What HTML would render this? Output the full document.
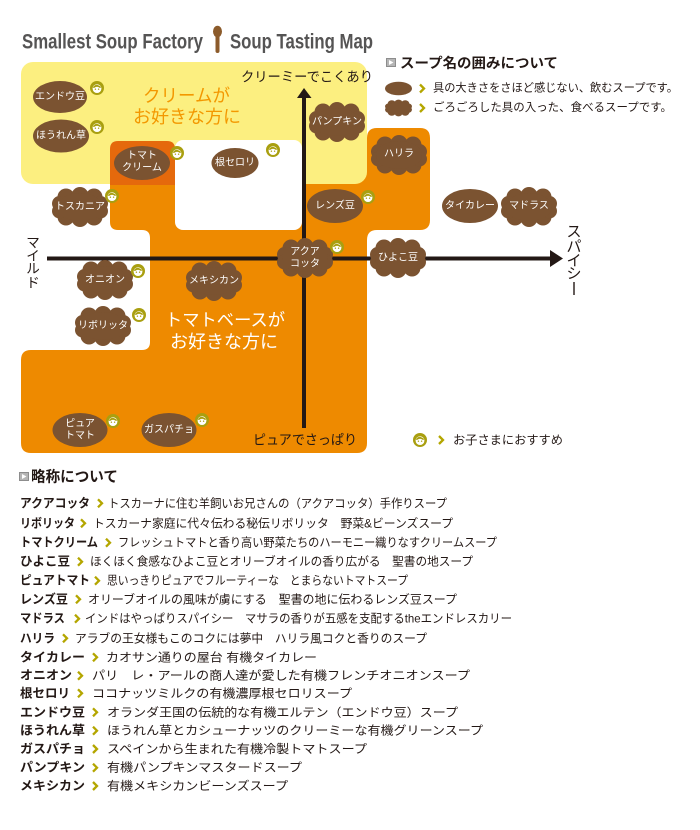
<!DOCTYPE html>
<html><head><meta charset="utf-8"><style>
html,body{margin:0;padding:0;background:#fff}
svg{display:block}
text{font-family:"Liberation Sans","Noto Sans CJK JP",sans-serif}
.n{fill:#fff;font-size:10px;text-anchor:middle;dominant-baseline:central}
.k{fill:#231815;dominant-baseline:central}
.b{font-weight:bold}
</style></head><body>
<svg width="700" height="830" viewBox="0 0 700 830" xmlns="http://www.w3.org/2000/svg">
<defs>
<g id="cl" fill="#7b5331">
<circle cx="-14" cy="-10" r="8.5"/><circle cx="0" cy="-11.5" r="8.5"/><circle cx="14" cy="-10" r="8.5"/>
<circle cx="-14" cy="10" r="8.5"/><circle cx="0" cy="11.5" r="8.5"/><circle cx="14" cy="10" r="8.5"/>
<circle cx="-20.5" cy="-3.5" r="7.5"/><circle cx="-20.5" cy="4" r="7.5"/><circle cx="20.5" cy="-3.5" r="7.5"/><circle cx="20.5" cy="4" r="7.5"/>
<ellipse cx="0" cy="0" rx="23" ry="14"/>
</g>
<g id="kid"><circle r="7" fill="#a99f10"/><circle cy="0.6" r="4.4" fill="#fff"/><path d="M-4.2,-0.5 Q-1,-5.5 4.2,-0.8 L3,0 Q0,-2.5 -3,0 Z" fill="#a99f10"/><circle cx="-1.6" cy="1.2" r="0.7" fill="#a99f10"/><circle cx="1.6" cy="1.2" r="0.7" fill="#a99f10"/></g>
<path id="chev" d="M-2,-4 L2,0 L-2,4" fill="none" stroke="#b4a600" stroke-width="2.3"/>
<g id="sq"><rect x="0" y="0" width="10" height="9" fill="#8d8d8d"/><rect x="1" y="1" width="8" height="7" fill="#b5b5b5"/><path d="M3,2 L7.5,4.5 L3,7 Z" fill="#fff"/></g>
</defs>

<!-- Title -->
<text x="22" y="48.5" font-size="21" font-weight="bold" fill="#555454" textLength="181" lengthAdjust="spacingAndGlyphs">Smallest Soup Factory</text>
<ellipse cx="217.5" cy="31.5" rx="4.5" ry="5.8" fill="#8c5b2b"/>
<path d="M217.5,34 L217.5,51" stroke="#8c5b2b" stroke-width="4" stroke-linecap="round"/>
<text x="230" y="48.5" font-size="21" font-weight="bold" fill="#555454" textLength="143" lengthAdjust="spacingAndGlyphs">Soup Tasting Map</text>

<!-- Orange main shape -->
<path d="M110,141 H367 V138 Q367,128 377,128 H420 Q430,128 430,138 V220 Q430,230 420,230 H377 Q367,230 367,240 V443 Q367,453 357,453 H31 Q21,453 21,443 V360 Q21,350 31,350 H142 Q150,350 150,342 V238 Q150,230 142,230 H118 Q110,230 110,222 Z" fill="#ee8a00"/>
<!-- Yellow -->
<rect x="21" y="62" width="346" height="122" rx="12" fill="#fcef80"/>
<!-- Dark orange -->
<path d="M110,185 V149 Q110,141 118,141 H167 Q175,141 175,149 V185 Z" fill="#e5690c"/>
<!-- White box -->
<rect x="175" y="140" width="127" height="90" rx="8" fill="#fff"/>

<!-- Region labels -->
<text x="143" y="96" font-size="18" fill="#f39800" textLength="87" lengthAdjust="spacingAndGlyphs" dominant-baseline="central">クリームが</text>
<text x="133" y="117" font-size="18" fill="#f39800" textLength="108" lengthAdjust="spacingAndGlyphs" dominant-baseline="central">お好きな方に</text>
<text x="165" y="320" font-size="17.5" fill="#fff" textLength="120" lengthAdjust="spacingAndGlyphs" dominant-baseline="central">トマトベースが</text>
<text x="170" y="342" font-size="18" fill="#fff" textLength="108" lengthAdjust="spacingAndGlyphs" dominant-baseline="central">お好きな方に</text>

<!-- Axes -->
<line x1="47" y1="258.5" x2="553" y2="258.5" stroke="#231815" stroke-width="4"/>
<path d="M550,250 L563,258.5 L550,267 Z" fill="#231815"/>
<line x1="304" y1="96" x2="304" y2="428" stroke="#231815" stroke-width="4"/>
<path d="M297,98 L304,88 L311.5,98 Z" fill="#231815"/>

<text class="k" x="241" y="77" font-size="13.5" textLength="132" lengthAdjust="spacingAndGlyphs">クリーミーでこくあり</text>
<text class="k" x="253" y="440" font-size="13.5" textLength="104" lengthAdjust="spacingAndGlyphs">ピュアでさっぱり</text>
<g font-size="13.5" fill="#231815" text-anchor="middle" dominant-baseline="central">
<text x="33" y="243">マ</text><text x="33" y="256">イ</text><text x="33" y="269">ル</text><text x="33" y="283">ド</text>
</g>
<g font-size="15" fill="#231815" text-anchor="middle" dominant-baseline="central">
<text x="574" y="232">ス</text><text x="574" y="247">パ</text><text x="574" y="261">イ</text><text x="574" y="274">シ</text>
</g>
<line x1="574" y1="282" x2="574" y2="295" stroke="#231815" stroke-width="1.4"/>

<!-- Nodes: ellipses -->
<g fill="#7b5331">
<ellipse cx="60" cy="97" rx="27" ry="16"/>
<ellipse cx="61" cy="136" rx="28" ry="16.5"/>
<ellipse cx="142" cy="163" rx="28" ry="17"/>
<ellipse cx="235" cy="163" rx="23.5" ry="15"/>
<ellipse cx="335" cy="206" rx="28" ry="17"/>
<ellipse cx="470" cy="206" rx="28" ry="17"/>
<ellipse cx="80" cy="430" rx="27.5" ry="17"/>
<ellipse cx="169" cy="430" rx="27.5" ry="17"/>
</g>
<!-- Nodes: clouds -->
<use href="#cl" x="337" y="122"/>
<use href="#cl" x="399" y="155"/>
<use href="#cl" x="305" y="258"/>
<use href="#cl" x="398" y="258"/>
<use href="#cl" x="529" y="207"/>
<use href="#cl" x="80" y="207"/>
<use href="#cl" x="105" y="280"/>
<use href="#cl" x="103" y="326"/>
<use href="#cl" x="214" y="281"/>

<!-- Node labels -->
<text class="n" x="60" y="97">エンドウ豆</text>
<text class="n" x="61" y="136">ほうれん草</text>
<text class="n" x="142" y="156">トマト</text>
<text class="n" x="142" y="168">クリーム</text>
<text class="n" x="235" y="163">根セロリ</text>
<text class="n" x="337" y="122">パンプキン</text>
<text class="n" x="399" y="154">ハリラ</text>
<text class="n" x="335" y="206" font-size="11">レンズ豆</text>
<text class="n" x="470" y="206">タイカレー</text>
<text class="n" x="529" y="206">マドラス</text>
<text class="n" x="80" y="207">トスカニア</text>
<text class="n" x="305" y="252">アクア</text>
<text class="n" x="305" y="264">コッタ</text>
<text class="n" x="398" y="258" font-size="10.5">ひよこ豆</text>
<text class="n" x="105" y="280">オニオン</text>
<text class="n" x="103" y="326">リボリッタ</text>
<text class="n" x="214" y="281">メキシカン</text>
<text class="n" x="80" y="424">ピュア</text>
<text class="n" x="80" y="436">トマト</text>
<text class="n" x="169" y="430">ガスパチョ</text>

<!-- Kid icons -->
<use href="#kid" x="97" y="88"/>
<use href="#kid" x="97" y="127"/>
<use href="#kid" x="177" y="153"/>
<use href="#kid" x="273" y="150"/>
<use href="#kid" x="368" y="197"/>
<use href="#kid" x="337" y="247"/>
<use href="#kid" x="112" y="196"/>
<use href="#kid" x="138" y="271"/>
<use href="#kid" x="139" y="315"/>
<use href="#kid" x="113" y="421"/>
<use href="#kid" x="202" y="420"/>

<!-- Legend top right -->
<use href="#sq" x="386" y="58"/>
<text class="k b" x="400" y="63" font-size="14" textLength="158" lengthAdjust="spacingAndGlyphs">スープ名の囲みについて</text>
<ellipse cx="398.5" cy="88.5" rx="13.5" ry="6.8" fill="#7b5331"/>
<use href="#chev" x="422" y="88.5"/>
<text class="k" x="433" y="88.5" font-size="11.5" textLength="245" lengthAdjust="spacingAndGlyphs">具の大きさをさほど感じない、飲むスープです。</text>
<g transform="translate(398.5,108) scale(0.48,0.42)"><use href="#cl"/></g>
<use href="#chev" x="422" y="108"/>
<text class="k" x="433" y="108" font-size="11.5" textLength="239" lengthAdjust="spacingAndGlyphs">ごろごろした具の入った、食べるスープです。</text>

<use href="#kid" x="420" y="440"/>
<use href="#chev" x="441" y="440"/>
<text class="k" x="453" y="440" font-size="12" textLength="110" lengthAdjust="spacingAndGlyphs">お子さまにおすすめ</text>

<!-- Abbreviations -->
<use href="#sq" x="19" y="472"/>
<text class="k b" x="31" y="477" font-size="15" textLength="87" lengthAdjust="spacingAndGlyphs">略称について</text>

<g font-size="12.5">
<text class="k b" x="20" y="503.3" textLength="70" lengthAdjust="spacingAndGlyphs">アクアコッタ</text>
<use href="#chev" x="100" y="503.3"/>
<text class="k" x="108" y="503.3" font-size="12" textLength="339" lengthAdjust="spacingAndGlyphs">トスカーナに住む羊飼いお兄さんの（アクアコッタ）手作りスープ</text>

<text class="k b" x="20" y="523.3" textLength="55" lengthAdjust="spacingAndGlyphs">リボリッタ</text>
<use href="#chev" x="83" y="523.3"/>
<text class="k" x="93" y="523.3" font-size="12" textLength="360" lengthAdjust="spacingAndGlyphs">トスカーナ家庭に代々伝わる秘伝リボリッタ　野菜&amp;ビーンズスープ</text>

<text class="k b" x="20" y="542.7" textLength="78" lengthAdjust="spacingAndGlyphs">トマトクリーム</text>
<use href="#chev" x="108" y="542.7"/>
<text class="k" x="118" y="542.7" font-size="12" textLength="379" lengthAdjust="spacingAndGlyphs">フレッシュトマトと香り高い野菜たちのハーモニー織りなすクリームスープ</text>

<text class="k b" x="20" y="561.7" textLength="50" lengthAdjust="spacingAndGlyphs">ひよこ豆</text>
<use href="#chev" x="80" y="561.7"/>
<text class="k" x="90" y="561.7" font-size="12" textLength="383" lengthAdjust="spacingAndGlyphs">ほくほく食感なひよこ豆とオリーブオイルの香り広がる　聖書の地スープ</text>

<text class="k b" x="20" y="580.7" textLength="70" lengthAdjust="spacingAndGlyphs">ピュアトマト</text>
<use href="#chev" x="97" y="580.7"/>
<text class="k" x="107" y="580.7" font-size="12" textLength="301" lengthAdjust="spacingAndGlyphs">思いっきりピュアでフルーティーな　とまらないトマトスープ</text>

<text class="k b" x="20" y="599.3" textLength="48" lengthAdjust="spacingAndGlyphs">レンズ豆</text>
<use href="#chev" x="78" y="599.3"/>
<text class="k" x="88" y="599.3" font-size="12" textLength="369" lengthAdjust="spacingAndGlyphs">オリーブオイルの風味が虜にする　聖書の地に伝わるレンズ豆スープ</text>

<text class="k b" x="20" y="618.7" textLength="45" lengthAdjust="spacingAndGlyphs">マドラス</text>
<use href="#chev" x="77" y="618.7"/>
<text class="k" x="85" y="618.7" font-size="12" textLength="427" lengthAdjust="spacingAndGlyphs">インドはやっぱりスパイシー　マサラの香りが五感を支配するtheエンドレスカリー</text>

<text class="k b" x="20" y="638.3" textLength="35" lengthAdjust="spacingAndGlyphs">ハリラ</text>
<use href="#chev" x="65" y="638.3"/>
<text class="k" x="75" y="638.3" font-size="12" textLength="352" lengthAdjust="spacingAndGlyphs">アラブの王女様もこのコクには夢中　ハリラ風コクと香りのスープ</text>

<text class="k b" x="20" y="657.3" textLength="65" lengthAdjust="spacingAndGlyphs">タイカレー</text>
<use href="#chev" x="95" y="657.3"/>
<text class="k" x="106" y="657.3" font-size="12" textLength="211" lengthAdjust="spacingAndGlyphs">カオサン通りの屋台 有機タイカレー</text>

<text class="k b" x="20" y="675.7" textLength="52" lengthAdjust="spacingAndGlyphs">オニオン</text>
<use href="#chev" x="80" y="675.7"/>
<text class="k" x="92" y="675.7" font-size="12" textLength="378" lengthAdjust="spacingAndGlyphs">パリ　レ・アールの商人達が愛した有機フレンチオニオンスープ</text>

<text class="k b" x="20" y="693.3" textLength="50" lengthAdjust="spacingAndGlyphs">根セロリ</text>
<use href="#chev" x="80" y="693.3"/>
<text class="k" x="92" y="693.3" font-size="12" textLength="260" lengthAdjust="spacingAndGlyphs">ココナッツミルクの有機濃厚根セロリスープ</text>

<text class="k b" x="20" y="712.3" textLength="65" lengthAdjust="spacingAndGlyphs">エンドウ豆</text>
<use href="#chev" x="95" y="712.3"/>
<text class="k" x="107" y="712.3" font-size="12" textLength="351" lengthAdjust="spacingAndGlyphs">オランダ王国の伝統的な有機エルテン（エンドウ豆）スープ</text>

<text class="k b" x="20" y="730.7" textLength="65" lengthAdjust="spacingAndGlyphs">ほうれん草</text>
<use href="#chev" x="95" y="730.7"/>
<text class="k" x="107" y="730.7" font-size="12" textLength="376" lengthAdjust="spacingAndGlyphs">ほうれん草とカシューナッツのクリーミーな有機グリーンスープ</text>

<text class="k b" x="20" y="749" textLength="65" lengthAdjust="spacingAndGlyphs">ガスパチョ</text>
<use href="#chev" x="95" y="749"/>
<text class="k" x="107" y="749" font-size="12" textLength="260" lengthAdjust="spacingAndGlyphs">スペインから生まれた有機冷製トマトスープ</text>

<text class="k b" x="20" y="767.7" textLength="65" lengthAdjust="spacingAndGlyphs">パンプキン</text>
<use href="#chev" x="95" y="767.7"/>
<text class="k" x="107" y="767.7" font-size="12" textLength="195" lengthAdjust="spacingAndGlyphs">有機パンプキンマスタードスープ</text>

<text class="k b" x="20" y="786" textLength="65" lengthAdjust="spacingAndGlyphs">メキシカン</text>
<use href="#chev" x="95" y="786"/>
<text class="k" x="107" y="786" font-size="12" textLength="181" lengthAdjust="spacingAndGlyphs">有機メキシカンビーンズスープ</text>
</g>
</svg>
</body></html>
